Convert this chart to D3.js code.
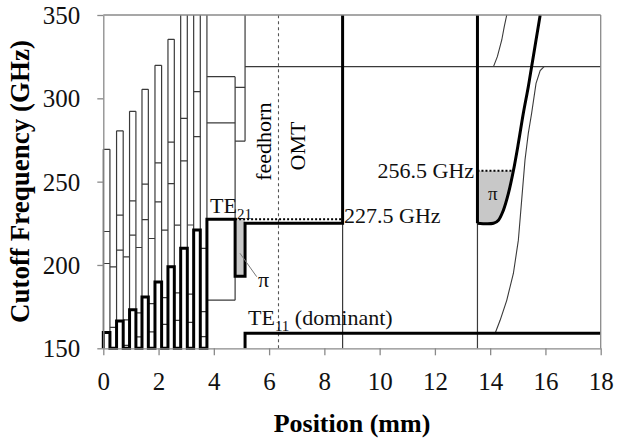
<!DOCTYPE html>
<html><head><meta charset="utf-8">
<script src="https://cdn.jsdelivr.net/npm/d3@7"></script>
<style>body{margin:0;background:#fff}</style>
</head><body><svg id="c" width="617" height="438"></svg>
<script>
// ---- data (mm, GHz) ----
const xTicks=[0,2,4,6,8,10,12,14,16,18];
const yTicks=[150,200,250,300,350];
const corrEdges=[0,0.24,0.48,0.72,0.95,1.18,1.40,1.63,1.87,2.11,2.34,2.57,2.80,3.04,3.27,3.51,3.75];
const ridgeTE11=[159.5,166.4,173.2,180.8,189.8,199,210,221];
const ridgeMode2=[200.9,208.9,217.9,227.2,237.9,248.8,262.5,277];
const ridgeMode3=[220.1,229.9,238.5,248.5,261.3,273.7,288,304];
const ridgeTop=[269.4,280.5,292.2,305.4,319.8,335.4,353,372];
const slotLow=[147.8,151.8,156.8,159.8,164.4,166.8,165.5,157];
const slotMid=[162.5,167,171.2,176.8,180.4,183.3,182.5,172];
const slotTop=[198.8,204.9,210.5,215.9,220.9,223.9,224,210];
const stepEdges=[3.75,4.77,5.13,8.66];
const stepTE21=[227.5,193.3,225];
const sectAModes=[178.9,285.3,313];
const sectBModes=[274.3,306.6];
const omtMode=319;
const te11Start=5.13, te11Level=159;
const tubeStart=13.54;
const curveX=[13.54,14.12,14.30,14.48,14.66,14.84,15.02,15.20,15.38,15.50,15.66,15.81];
const curveF=[225,225,226.9,232.9,242.9,256.5,273,291,307,319,335,350];
const thin1X=[14.12,14.26,14.42,14.51,14.60];
const thin1F=[319,325,335,343,350];
const thin2X=[14.18,14.36,14.60,14.84,15.02,15.14,15.26,15.38,15.50,15.66,15.81,15.95];
const thin2F=[159,166.8,178.8,194.9,214.9,238.9,262.9,279,291,309,316.6,319];
const dashX=6.34;
const piLevel=227.5, piLevel2=256.5;

// ---- drawing ----
const FONT="'Liberation Serif','Times New Roman',serif";
const svg=d3.select("#c");
const x=d3.scaleLinear().domain([0,18]).range([103.3,600.7]);
const y=d3.scaleLinear().domain([150,350]).range([348.3,15]);
const AX="#8a8a8a", THIN="#3a3a3a";

svg.append("defs").append("clipPath").attr("id","pc").append("rect")
  .attr("x",x(0)-3).attr("y",y(350)).attr("width",x(18)-x(0)+6).attr("height",y(150)-y(350)+1.6);
const g=svg.append("g").attr("clip-path","url(#pc)");

const line=d3.line().x(d=>x(d[0])).y(d=>y(d[1]));
function seg(sel,x0,f0,x1,f1,col,w,dash){
  const l=sel.append("line").attr("x1",x(x0)).attr("y1",y(f0)).attr("x2",x(x1)).attr("y2",y(f1))
   .attr("stroke",col).attr("stroke-width",w);
  if(dash) l.attr("stroke-dasharray",dash);
  return l;
}

// gray fills
g.append("rect").attr("x",x(stepEdges[1])).attr("y",y(piLevel))
  .attr("width",x(stepEdges[2])-x(stepEdges[1])).attr("height",y(stepTE21[1])-y(piLevel))
  .attr("fill","#c8c8c8");
const fillPts=[[tubeStart,piLevel2]];
curveX.forEach((cx,i)=>{ if(curveF[i]<=piLevel2) fillPts.push([cx,curveF[i]]); });
g.append("path").attr("d",line(fillPts)+"Z").attr("fill","#c8c8c8");

// thin mode lines in corrugated section
const thinG=g.append("g");
for(let k=0;k<ridgeTE11.length;k++){
  const a=corrEdges[2*k], b=corrEdges[2*k+1], c=corrEdges[2*k+2];
  const top=Math.min(ridgeTop[k],352);
  seg(thinG,a,150,a,top,THIN,1.2);
  seg(thinG,b,150,b,top,THIN,1.2);
  [ridgeMode2[k],ridgeMode3[k],ridgeTop[k]].forEach(f=>seg(thinG,a,f,b,f,THIN,1.2));
  [slotLow[k],slotMid[k],slotTop[k]].forEach(f=>seg(thinG,b,f,c,f,THIN,1.2));
}
// section A / B
seg(thinG,stepEdges[0],150,stepEdges[0],350,THIN,1.2);
sectAModes.forEach(f=>seg(thinG,stepEdges[0],f,stepEdges[1],f,THIN,1.2));
seg(thinG,stepEdges[1],sectAModes[0],stepEdges[1],sectAModes[2],THIN,1.2);
sectBModes.forEach(f=>seg(thinG,stepEdges[1],f,stepEdges[2],f,THIN,1.2));
seg(thinG,stepEdges[2],sectBModes[0],stepEdges[2],350,THIN,1.2);
// OMT & output
seg(thinG,stepEdges[2],omtMode,18,omtMode,THIN,1.2);
seg(thinG,stepEdges[3],150,stepEdges[3],stepTE21[2],THIN,1.2);
seg(thinG,tubeStart,150,tubeStart,curveF[0],THIN,1.2);
thinG.append("path").attr("d",line(thin1X.map((v,i)=>[v,thin1F[i]]))).attr("fill","none").attr("stroke",THIN).attr("stroke-width",1.1);
thinG.append("path").attr("d",line(thin2X.map((v,i)=>[v,thin2F[i]]))).attr("fill","none").attr("stroke",THIN).attr("stroke-width",1.1);

// dashed boundary feedhorn/OMT
seg(g,dashX,150,dashX,350,"#555",1.1,"3,3");
// dotted levels
seg(g,stepEdges[1],piLevel,stepEdges[3],piLevel,"#000",2,"2,2");
seg(g,tubeStart,piLevel2,curveX[5],piLevel2,"#000",2,"2,2");

// thick: corrugation TE11 + TE21 path
const thick=[[0,150]];
for(let k=0;k<ridgeTE11.length;k++){
  const a=corrEdges[2*k], b=corrEdges[2*k+1];
  thick.push([a,150],[a,ridgeTE11[k]],[b,ridgeTE11[k]],[b,150]);
}
thick.push([stepEdges[0],150]);
for(let i=0;i<stepTE21.length;i++){
  thick.push([stepEdges[i],stepTE21[i]],[stepEdges[i+1],stepTE21[i]]);
}
thick.push([stepEdges[3],350]);
g.append("path").attr("d",line(thick)).attr("fill","none").attr("stroke","#000").attr("stroke-width",3).attr("stroke-linejoin","miter");
g.append("path").attr("d",line([[te11Start,150],[te11Start,te11Level],[18,te11Level]])).attr("fill","none").attr("stroke","#000").attr("stroke-width",3);
g.append("path").attr("d",d3.line().x(d=>x(d[0])).y(d=>y(d[1])).curve(d3.curveMonotoneY)([[tubeStart,350],[tubeStart,225.01]])+"")
  .attr("fill","none").attr("stroke","#000").attr("stroke-width",3);
g.append("path").attr("d",d3.line().x(d=>x(d[0])).y(d=>y(d[1])).curve(d3.curveCatmullRom)(curveX.map((v,i)=>[v,curveF[i]])))
  .attr("fill","none").attr("stroke","#000").attr("stroke-width",3);

// axes
const ya=svg.append("g").attr("transform",`translate(${x(0)},0)`)
  .call(d3.axisLeft(y).tickValues(yTicks).tickSize(6).tickSizeOuter(0).tickPadding(17));
const xa=svg.append("g").attr("transform",`translate(0,${y(150)})`)
  .call(d3.axisBottom(x).tickValues(xTicks).tickSize(7).tickSizeOuter(0));
[ya,xa].forEach(a=>{
  a.selectAll("path,line").attr("stroke",AX).attr("stroke-width",1.3);
  a.selectAll("text").attr("font-family",FONT).attr("font-size",25).attr("fill","#111");
});
xa.selectAll("text").attr("dy",null).attr("y",41.7);
ya.selectAll("text").attr("dy","0.34em");
// frame
seg(svg,0,350,18,350,AX,1.3);
seg(svg,18,150,18,350,AX,1.3);

// titles
svg.append("text").attr("transform","translate(29,181.5) rotate(-90)").attr("text-anchor","middle")
  .attr("font-family",FONT).attr("font-weight","bold").attr("font-size",27).text("Cutoff Frequency (GHz)");
svg.append("text").attr("x",352).attr("y",432).attr("text-anchor","middle")
  .attr("font-family",FONT).attr("font-weight","bold").attr("font-size",26).text("Position (mm)");

// annotations
function txt(xp,yp,s,size,extra){
  const t=svg.append("text").attr("x",xp).attr("y",yp).attr("font-family",FONT).attr("font-size",size).attr("fill","#111").text(s);
  return t;
}
svg.append("text").attr("transform","translate(271,141.7) rotate(-90)").attr("text-anchor","middle")
  .attr("font-family",FONT).attr("font-size",22).text("feedhorn");
svg.append("text").attr("transform","translate(305,146) rotate(-90)").attr("text-anchor","middle")
  .attr("font-family",FONT).attr("font-size",22).text("OMT");
const te21=svg.append("text").attr("x",210).attr("y",212.7).attr("font-family",FONT).attr("font-size",22).attr("fill","#111");
te21.append("tspan").text("TE");
te21.append("tspan").attr("font-size",15).attr("dy",6).text("21");
const te11=svg.append("text").attr("x",248).attr("y",325).attr("font-family",FONT).attr("font-size",22).attr("fill","#111");
te11.append("tspan").text("TE");
te11.append("tspan").attr("font-size",15).attr("dy",6).text("11");
te11.append("tspan").attr("dy",-6).text(" (dominant)");
txt(258,286.7,"π",22);
svg.append("line").attr("x1",240).attr("y1",253.3).attr("x2",256.7).attr("y2",276.7).attr("stroke","#777").attr("stroke-width",1);
txt(344,223,"227.5 GHz",22);
txt(377.5,178,"256.5 GHz",22);
txt(488,200,"π",19);
</script></body></html>
